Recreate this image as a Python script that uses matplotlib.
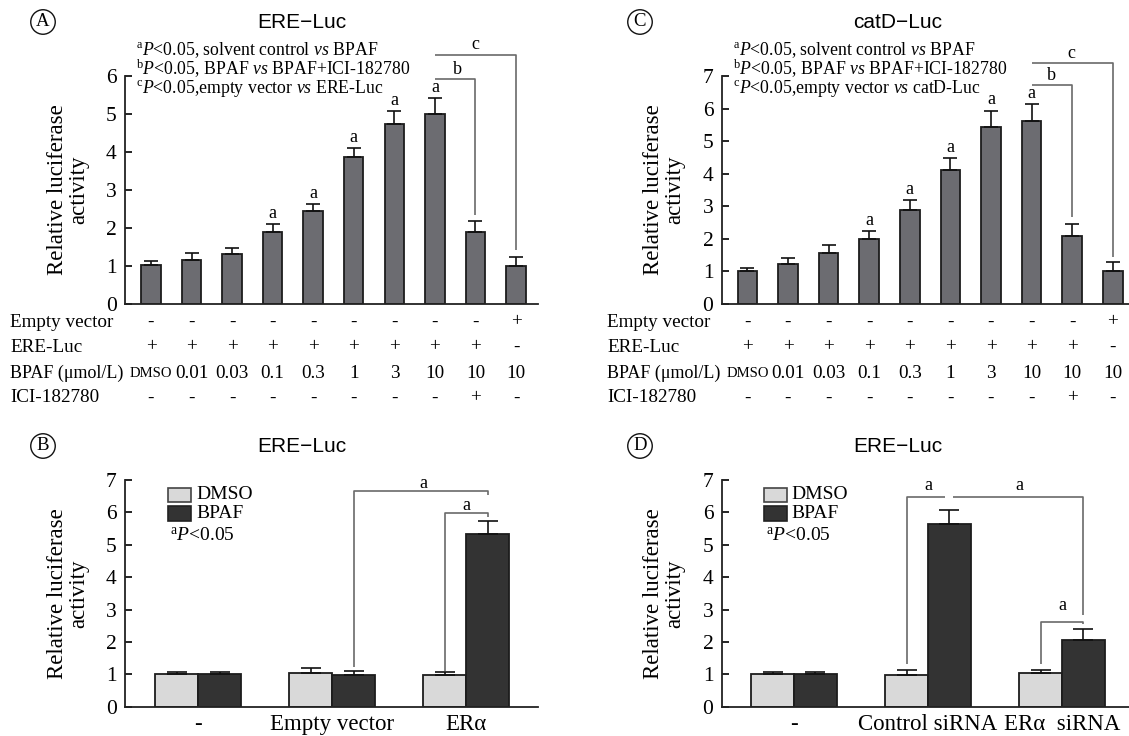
import matplotlib
matplotlib.use('Agg')
import matplotlib.pyplot as plt
from matplotlib.transforms import blended_transform_factory as btf
from matplotlib.patches import Rectangle

plt.rcParams['font.family'] = ['Liberation Serif', 'DejaVu Serif']
plt.rcParams['mathtext.fontset'] = 'custom'
plt.rcParams['mathtext.rm'] = 'Liberation Serif'
plt.rcParams['mathtext.it'] = 'Liberation Serif:italic'

# ---------------- data ----------------
dose_labels = ['DMSO', '0.01', '0.03', '0.1', '0.3', '1', '3', '10', '10', '10']
empty_vec_row = ['-'] * 9 + ['+']
ere_luc_row = ['+'] * 9 + ['-']
ici_row = ['-'] * 8 + ['+', '-']
row_names = ['Empty vector', 'ERE-Luc', 'BPAF (μmol/L)', 'ICI-182780']

ere_vals = [1.02, 1.15, 1.32, 1.89, 2.46, 3.87, 4.74, 4.99, 1.89, 1.01]
ere_err = [0.11, 0.20, 0.16, 0.21, 0.16, 0.24, 0.33, 0.42, 0.30, 0.24]
catd_vals = [1.02, 1.24, 1.56, 2.00, 2.90, 4.11, 5.44, 5.62, 2.08, 1.01]
catd_err = [0.09, 0.17, 0.25, 0.23, 0.28, 0.38, 0.50, 0.52, 0.39, 0.27]
sig_a_idx = [3, 4, 5, 6, 7]

groups_B = ['-', 'Empty vector', 'ERα']
b_dmso = [1.00, 1.05, 0.97]
b_dmso_err = [0.08, 0.13, 0.11]
b_bpaf = [1.00, 0.99, 5.32]
b_bpaf_err = [0.08, 0.11, 0.42]

groups_D = ['-', 'Control siRNA', 'ERα  siRNA']
d_dmso = [1.00, 0.99, 1.04]
d_dmso_err = [0.08, 0.14, 0.10]
d_bpaf = [1.00, 5.65, 2.05]
d_bpaf_err = [0.08, 0.43, 0.34]

# ---------------- figure ----------------
W, H = 1129, 736
fig = plt.figure(figsize=(W / 100, H / 100), dpi=100)


def px_axes(l, r, b, t):
    return fig.add_axes([l / W, 1 - b / H, (r - l) / W, (b - t) / H])


BAR_GRAY = '#6c6c71'
EDGE = '#1c1c1c'
LIGHT = '#d9d9d9'
DARK = '#333333'
BRK = '#6a6a6a'
SANS = ['Liberation Sans', 'DejaVu Sans']


def style_axes(ax, ymax):
    for s in ['top', 'right']:
        ax.spines[s].set_visible(False)
    for s in ['left', 'bottom']:
        ax.spines[s].set_linewidth(1.3)
        ax.spines[s].set_color('#222222')
    ax.set_ylim(0, ymax)
    ax.set_yticks(range(0, ymax + 1))
    ax.tick_params(axis='y', direction='in', length=5, width=1.2, labelsize=15.5, pad=6)
    ax.set_facecolor('none')


def ylabel(ax, xc):
    ax.text(xc, 0.5, 'Relative luciferase\nactivity', transform=ax.transAxes,
            rotation=90, ha='center', va='center', multialignment='center',
            fontsize=16.5, linespacing=1.0)


def bracket(ax, xs, ys):
    ax.plot(xs, ys, color=BRK, lw=1.2, clip_on=False, solid_capstyle='butt')


def dose_panel(ax, vals, errs, ymax, px_top, px0):
    x = list(range(len(vals)))
    ax.bar(x, vals, width=0.48, color=BAR_GRAY, edgecolor=EDGE, linewidth=1.3, zorder=2)
    ax.errorbar(x, vals, yerr=[[0] * len(errs), errs], fmt='none', ecolor='#111111',
                elinewidth=1.2, capsize=4.7, capthick=1.2, zorder=3)
    for i in sig_a_idx:
        ax.annotate('a', (i, vals[i] + errs[i]), xytext=(0, 1.5), textcoords='offset points',
                    ha='center', va='bottom', fontsize=13)
    style_axes(ax, ymax)
    ax.set_xticks([])
    h = px0 - px_top
    tr_col = btf(ax.transData, ax.transAxes)
    tr_lab = btf(fig.transFigure, ax.transAxes)
    rows = [empty_vec_row, ere_luc_row, dose_labels, ici_row]
    return tr_col, tr_lab, rows, h


def draw_table(ax, tr_col, tr_lab, rows, h, px0, rows_px, lab_x):
    for name, row, rp in zip(row_names, rows, rows_px):
        yy = (px0 - rp) / h
        lfs = 13.0 if name.startswith('BPAF') else 13.8
        ax.text(lab_x / W, yy, name, transform=tr_lab, ha='left', va='center', fontsize=lfs)
        for i, s in enumerate(row):
            fs = 10.5 if s == 'DMSO' else 13.8
            ax.text(i, yy, s, transform=tr_col, ha='center', va='center', fontsize=fs)


def note_lines(ax, lines, x_px, l_px, w_px, ys_px, px0, h):
    for s, yp in zip(lines, ys_px):
        ax.text((x_px - l_px) / w_px, (px0 - yp) / h, s, transform=ax.transAxes,
                ha='left', va='center', fontsize=12.8)


# ---------- Panel A ----------
axA = px_axes(125, 537.5, 304, 76)
trc, trl, rows, h = dose_panel(axA, ere_vals, ere_err, 6, 76, 304)
axA.set_xlim(-0.64, 9.53)
draw_table(axA, trc, trl, rows, h, 304, [322, 347, 373, 398], 10)
ylabel(axA, -0.137)
note_lines(axA, [r'$^{\mathrm{a}}\mathit{P}$<0.05, solvent control $\mathit{vs}$ BPAF',
                 r'$^{\mathrm{b}}\mathit{P}$<0.05, BPAF $\mathit{vs}$ BPAF+ICI-182780',
                 r'$^{\mathrm{c}}\mathit{P}$<0.05,empty vector $\mathit{vs}$ ERE-Luc'],
           136, 125, 412.5, [50, 69, 88], 304, 228)
bracket(axA, [7, 8, 8], [5.92, 5.92, 2.34])
bracket(axA, [7, 9, 9], [6.56, 6.56, 1.42])
axA.text(7.55, 6.16, 'b', ha='center', va='center', fontsize=13)
axA.text(8.0, 6.82, 'c', ha='center', va='center', fontsize=13)
fig.text(302 / W, 1 - 23 / H, 'ERE−Luc', ha='center', va='center', fontsize=15, family=SANS)

# ---------- Panel C ----------
axC = px_axes(721.8, 1129, 304, 76)
trc, trl, rows, h = dose_panel(axC, catd_vals, catd_err, 7, 76, 304)
axC.set_xlim(-0.63, 9.4)
draw_table(axC, trc, trl, rows, h, 304, [322, 347, 373, 398], 607)
ylabel(axC, -0.141)
note_lines(axC, [r'$^{\mathrm{a}}\mathit{P}$<0.05, solvent control $\mathit{vs}$ BPAF',
                 r'$^{\mathrm{b}}\mathit{P}$<0.05, BPAF $\mathit{vs}$ BPAF+ICI-182780',
                 r'$^{\mathrm{c}}\mathit{P}$<0.05,empty vector $\mathit{vs}$ catD-Luc'],
           733, 721.8, 407.2, [50, 69, 88], 304, 228)
bracket(axC, [7, 8, 8], [6.72, 6.72, 2.68])
bracket(axC, [7, 9, 9], [7.39, 7.39, 1.45])
axC.text(7.5, 7.03, 'b', ha='center', va='center', fontsize=13)
axC.text(7.97, 7.7, 'c', ha='center', va='center', fontsize=13)
fig.text(898 / W, 1 - 23 / H, 'catD−Luc', ha='center', va='center', fontsize=15, family=SANS)


# ---------- grouped panels ----------
def group_panel(ax, names, dm, dme, bp, bpe):
    x = list(range(len(names)))
    off = 0.16
    w = 0.32
    xd = [i - off for i in x]
    xb = [i + off for i in x]
    ax.bar(xd, dm, width=w, color=LIGHT, edgecolor=EDGE, linewidth=1.3, zorder=2)
    ax.bar(xb, bp, width=w, color=DARK, edgecolor=EDGE, linewidth=1.3, zorder=2)
    ax.errorbar(xd, dm, yerr=[[0] * 3, dme], fmt='none', ecolor='#111111',
                elinewidth=1.2, capsize=7.5, capthick=1.2, zorder=3)
    ax.errorbar(xb, bp, yerr=[[0] * 3, bpe], fmt='none', ecolor='#111111',
                elinewidth=1.2, capsize=7.5, capthick=1.2, zorder=3)
    style_axes(ax, 7)
    ax.set_xticks(x)
    ax.set_xticklabels(names, fontsize=16.5)
    ax.tick_params(axis='x', length=0, pad=5)
    ax.add_patch(Rectangle((0.104, 0.905), 0.056, 0.06, transform=ax.transAxes,
                           facecolor=LIGHT, edgecolor='#444444', lw=1.2, clip_on=False))
    ax.add_patch(Rectangle((0.104, 0.818), 0.056, 0.066, transform=ax.transAxes,
                           facecolor=DARK, edgecolor='#222222', lw=1.2, clip_on=False))
    ax.text(0.172, 0.938, 'DMSO', transform=ax.transAxes, ha='left', va='center', fontsize=14)
    ax.text(0.172, 0.852, 'BPAF', transform=ax.transAxes, ha='left', va='center', fontsize=14)
    ax.text(0.108, 0.752, r'$^{\mathrm{a}}\mathit{P}$<0.05', transform=ax.transAxes,
            ha='left', va='center', fontsize=14)
    return xd, xb


axB = px_axes(125, 537.5, 706.7, 480)
xd, xb = group_panel(axB, groups_B, b_dmso, b_dmso_err, b_bpaf, b_bpaf_err)
axB.set_xlim(-0.545, 2.53)
ylabel(axB, -0.137)
bracket(axB, [xd[2], xd[2], xb[2], xb[2]], [1.10, 5.98, 5.98, 5.87])
bracket(axB, [xb[1], xb[1], xb[2], xb[2]], [1.23, 6.67, 6.67, 6.53])
axB.text(1.68, 6.9, 'a', ha='center', va='center', fontsize=13)
axB.text(2.0, 6.22, 'a', ha='center', va='center', fontsize=13)
fig.text(302 / W, 1 - 446 / H, 'ERE−Luc', ha='center', va='center', fontsize=15, family=SANS)

axD = px_axes(721.8, 1129, 706.7, 480)
xd, xb = group_panel(axD, groups_D, d_dmso, d_dmso_err, d_bpaf, d_bpaf_err)
axD.set_xlim(-0.539, 2.5)
ylabel(axD, -0.141)
bracket(axD, [xd[1], xd[1], 1.127], [1.32, 6.46, 6.46])
bracket(axD, [1.187, xb[2], xb[2]], [6.46, 6.46, 2.83])
bracket(axD, [xd[2], xd[2], xb[2], xb[2]], [1.31, 2.62, 2.62, 2.55])
axD.text(1.0, 6.84, 'a', ha='center', va='center', fontsize=13)
axD.text(1.68, 6.84, 'a', ha='center', va='center', fontsize=13)
axD.text(2.0, 3.12, 'a', ha='center', va='center', fontsize=13)
fig.text(898 / W, 1 - 446 / H, 'ERE−Luc', ha='center', va='center', fontsize=15, family=SANS)

# circled panel letters
for letter, (xp, yp) in zip(['A', 'C', 'B', 'D'], [(43, 22), (640, 22), (43, 446), (640, 446)]):
    fig.text(xp / W, 1 - yp / H, letter, ha='center', va='center', fontsize=13.5,
             bbox=dict(boxstyle='circle,pad=0.2', fc='none', ec='#111111', lw=1.0))

fig.savefig('out.png', dpi=100)
